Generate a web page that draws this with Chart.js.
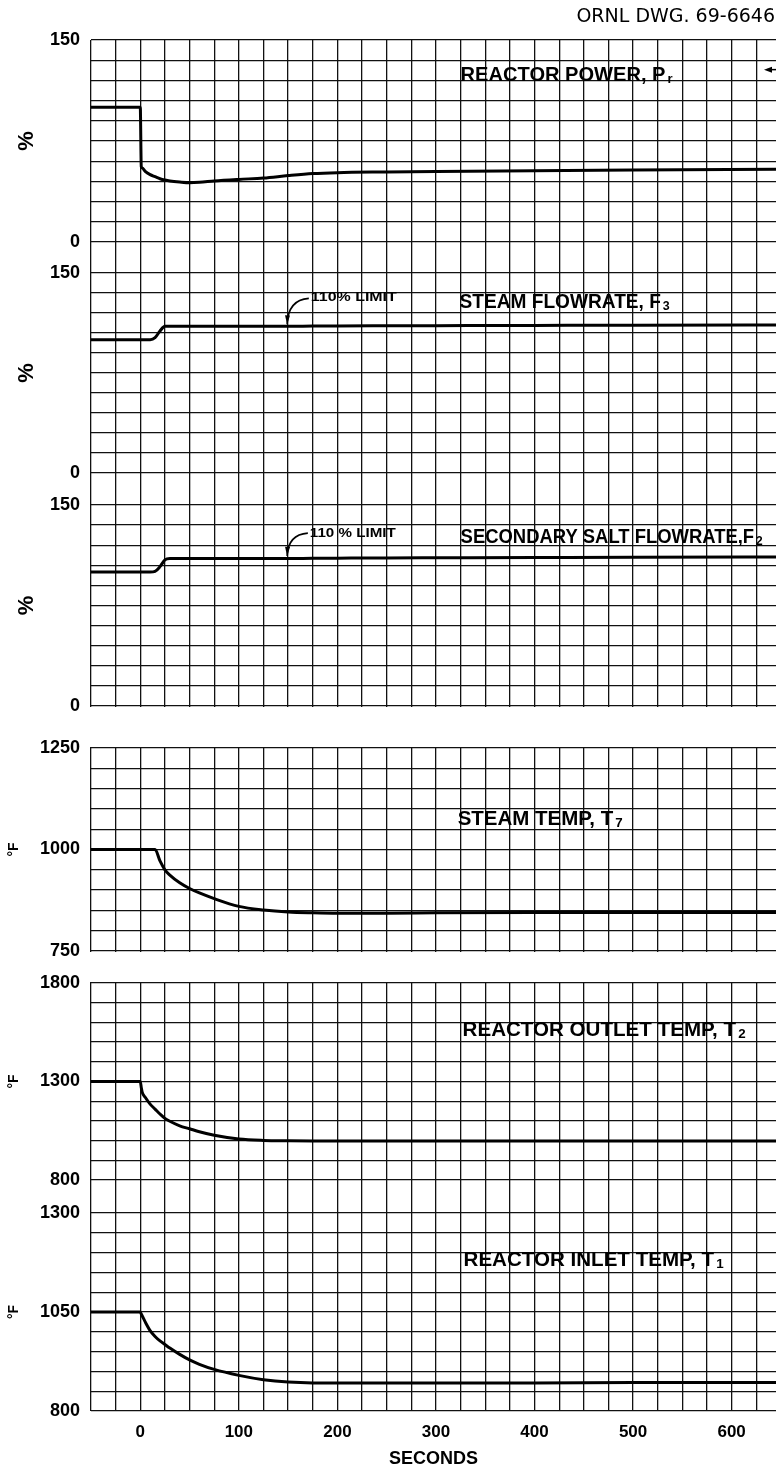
<!DOCTYPE html>
<html>
<head>
<meta charset="utf-8">
<script src="https://cdn.jsdelivr.net/npm/chart.js@4.4.0/dist/chart.umd.min.js"></script>
<style>
  html, body { margin: 0; padding: 0; background: #fff; }
  #wrap { position: relative; width: 776px; height: 1473px; }
</style>
</head>
<body>
<div id="wrap"><canvas id="transient" width="776" height="1473"></canvas></div>
<script>
// time after the load change (s)
const seconds = [-50, 0, 1, 2, 5, 10, 15, 20, 25, 30, 40, 50, 60, 75, 100, 125, 150, 175, 200, 250, 300, 400, 500, 645];

// series
const reactorPower = [100, 100, 56, 55, 52.5, 50, 48.5, 47, 46, 45.3, 44.5, 44, 44.3, 45.3, 46.5, 47.5, 49.3, 50.8, 51.5, 52, 52.4, 53, 53.4, 54];
const steamFlow = [100, 100, 100, 100, 100, 100, 101.5, 106.5, 110, 110, 110, 110, 110, 110, 110, 110, 110, 110.2, 110.3, 110.4, 110.5, 110.7, 110.9, 111];
const saltFlow = [100, 100, 100, 100, 100, 100, 100.5, 104, 109, 110, 110, 110, 110, 110, 110, 110, 110, 110.2, 110.3, 110.5, 110.6, 110.8, 111, 111.2];
const steamTemp = [1000, 1000, 1000, 1000, 1000, 1000, 1000, 972, 950, 937, 918, 904, 893, 879, 860, 851, 846, 844, 843, 843, 844, 845, 845, 845];
const outletTemp = [1300, 1300, 1270, 1245, 1220, 1185, 1160, 1135, 1113, 1098, 1075, 1060, 1045, 1027, 1008, 1001, 999, 998, 998, 998, 998, 998, 998, 998];
const inletTemp = [1050, 1050, 1045, 1040, 1025, 1003, 988, 977, 968, 959, 943, 929, 918, 905, 890, 879, 873, 871, 871, 871, 871, 871, 872, 872];

// labelled ticks
const percentLabels = [0, 150];
const steamTempLabels = [750, 1000, 1250];
const outletTempLabels = [800, 1300, 1800];
const inletTempLabels = [800, 1050, 1300];
const secondLabels = [0, 100, 200, 300, 400, 500, 600];

// pixel height of each strip on the paper, top to bottom (g* = space between strips)
const stripHeights = { yPower: 202, g1: 31, yStFlow: 200, g2: 32, ySalt: 201, g3: 42, ySteamT: 203, g4: 32, yOutlet: 197, g5: 33, yInlet: 198 };
const stripOrder = Object.keys(stripHeights);

const INK = "#111";
const FONT = '"Liberation Sans", Arial, sans-serif';
Chart.defaults.font.family = FONT;
Chart.defaults.color = "#000";

const points = (vals) => seconds.map((t, i) => ({ x: t, y: vals[i] }));

const valueAxis = (id, min, max, labels, unit, unitSize, unitPad) => ({
  type: "linear",
  position: "left",
  stack: "strips",
  stackWeight: stripHeights[id],
  weight: stripOrder.length - stripOrder.indexOf(id),
  min: min,
  max: max,
  afterFit: (s) => { s.width = 91; },
  grid: { color: INK, lineWidth: 1.3, drawTicks: false },
  border: { display: false },
  ticks: {
    stepSize: (max - min) / 10,
    autoSkip: false,
    padding: 11,
    font: { size: 18, weight: "bold" },
    callback: (v) => (labels.includes(v) ? String(v) : ""),
  },
  title: {
    display: true,
    text: unit,
    font: { size: unitSize, weight: "bold" },
    padding: { top: unitPad, bottom: 0 },
  },
});

const gapAxis = (id) => ({
  type: "linear",
  position: "left",
  stack: "strips",
  stackWeight: stripHeights[id],
  weight: stripOrder.length - stripOrder.indexOf(id),
  min: 0,
  max: 1,
  afterFit: (s) => { s.width = 91; },
  grid: { display: false },
  border: { display: false },
  ticks: { display: false },
});

const line = (vals, axis) => ({
  data: points(vals),
  yAxisID: axis,
  borderColor: "#000",
  borderWidth: 3,
  pointRadius: 0,
  cubicInterpolationMode: "monotone",
  fill: false,
});

// strip captions, placed in data units of their own strip
const captions = [
  { axis: "yPower", t: 325, v: 124, text: "REACTOR POWER, P", sub: "r", width: 212 },
  { axis: "yStFlow", t: 324, v: 128, text: "STEAM FLOWRATE, F", sub: "3", width: 210 },
  { axis: "ySalt", t: 325, v: 126, text: "SECONDARY SALT FLOWRATE,F", sub: "2", width: 302 },
  { axis: "ySteamT", t: 322, v: 1073, text: "STEAM TEMP, T", sub: "7", width: 165 },
  { axis: "yOutlet", t: 327, v: 1561, text: "REACTOR OUTLET TEMP, T", sub: "2", width: 283 },
  { axis: "yInlet", t: 328, v: 1181, text: "REACTOR INLET TEMP, T", sub: "1", width: 260 },
];

const limitNotes = [
  { axis: "yStFlow", text: "110% LIMIT", at: [173, 131.5], from: [171, 131], bend: [150, 130], to: [149, 111.5] },
  { axis: "ySalt", text: "110 % LIMIT", at: [172, 129], from: [170, 129], bend: [150, 128], to: [149, 112] },
];

const paperPlugin = {
  id: "paper",
  beforeDatasetsDraw(chart) {
    // blank paper between the separate recorder strips
    const { ctx, chartArea } = chart;
    ctx.save();
    ctx.fillStyle = "#fff";
    ["g3", "g4"].forEach((id) => {
      const s = chart.scales[id];
      ctx.fillRect(chartArea.left - 2, Math.round(s.top) + 1, chartArea.right - chartArea.left + 4, Math.round(s.bottom) - Math.round(s.top) - 2);
    });
    ctx.restore();
  },
  afterDatasetsDraw(chart) {
    const { ctx } = chart;
    const xs = chart.scales.x;
    ctx.save();
    ctx.fillStyle = "#000";
    ctx.strokeStyle = "#000";
    ctx.textBaseline = "middle";

    captions.forEach((c) => {
      const ys = chart.scales[c.axis];
      const px = xs.getPixelForValue(c.t);
      const py = ys.getPixelForValue(c.v);
      ctx.font = `bold 20px ${FONT}`;
      const mainW = ctx.measureText(c.text).width;
      ctx.font = `bold 13px ${FONT}`;
      const subW = ctx.measureText(c.sub).width;
      const k = c.width / (mainW + subW + 2);
      ctx.save();
      ctx.translate(px, py);
      ctx.scale(k, 1);
      ctx.font = `bold 20px ${FONT}`;
      ctx.fillText(c.text, 0, 0);
      ctx.font = `bold 13px ${FONT}`;
      ctx.fillText(c.sub, mainW + 2, 4);
      ctx.restore();
    });

    limitNotes.forEach((n) => {
      const ys = chart.scales[n.axis];
      const p = (pt) => [xs.getPixelForValue(pt[0]), ys.getPixelForValue(pt[1])];
      const a = p(n.from), b = p(n.bend), c = p(n.to), tx = p(n.at);
      ctx.lineWidth = 1.6;
      ctx.beginPath();
      ctx.moveTo(a[0], a[1]);
      ctx.quadraticCurveTo(b[0], b[1], c[0], c[1]);
      ctx.stroke();
      const ang = Math.atan2(c[1] - b[1], c[0] - b[0]);
      ctx.beginPath();
      ctx.moveTo(c[0], c[1]);
      ctx.lineTo(c[0] - 9 * Math.cos(ang) + 2.5 * Math.sin(ang), c[1] - 9 * Math.sin(ang) - 2.5 * Math.cos(ang));
      ctx.lineTo(c[0] - 9 * Math.cos(ang) - 2.5 * Math.sin(ang), c[1] - 9 * Math.sin(ang) + 2.5 * Math.cos(ang));
      ctx.closePath();
      ctx.fill();
      ctx.font = `bold 13px ${FONT}`;
      const w = ctx.measureText(n.text).width;
      ctx.save();
      ctx.translate(tx[0], tx[1]);
      ctx.scale(86 / w, 1);
      ctx.fillText(n.text, 0, 0);
      ctx.restore();
    });

    // pointer at the right edge of the power strip
    const ay = chart.scales.yPower.getPixelForValue(128);
    ctx.lineWidth = 1.5;
    ctx.beginPath();
    ctx.moveTo(776, ay);
    ctx.lineTo(767, ay);
    ctx.stroke();
    ctx.beginPath();
    ctx.moveTo(764, ay);
    ctx.lineTo(772, ay - 3);
    ctx.lineTo(772, ay + 3);
    ctx.closePath();
    ctx.fill();
    ctx.restore();
  },
  afterDraw(chart) {
    const { ctx } = chart;
    ctx.save();
    ctx.fillStyle = "#000";
    ctx.font = '19px "DejaVu Sans", sans-serif';
    ctx.textAlign = "right";
    ctx.textBaseline = "middle";
    ctx.fillText("ORNL DWG. 69-6646", 775, 17);
    ctx.restore();
  },
};

const scales = {
  x: {
    type: "linear",
    position: "bottom",
    min: -50,
    max: 645,
    afterFit: (s) => { s.height = 62; },
    grid: { color: INK, lineWidth: 1.3, drawTicks: false },
    border: { display: false },
    ticks: {
      stepSize: 25,
      includeBounds: false,
      autoSkip: false,
      maxRotation: 0,
      padding: 11,
      font: { size: 17, weight: "bold" },
      callback: (v) => (secondLabels.includes(v) ? String(v) : ""),
    },
    title: { display: true, text: "SECONDS", font: { size: 18, weight: "bold" }, padding: { top: 0, bottom: 3 } },
  },
  yPower: valueAxis("yPower", 0, 150, percentLabels, "%", 22, 14),
  g1: gapAxis("g1"),
  yStFlow: valueAxis("yStFlow", 0, 150, percentLabels, "%", 22, 14),
  g2: gapAxis("g2"),
  ySalt: valueAxis("ySalt", 0, 150, percentLabels, "%", 22, 14),
  g3: gapAxis("g3"),
  ySteamT: valueAxis("ySteamT", 750, 1250, steamTempLabels, "°F", 14, 6),
  g4: gapAxis("g4"),
  yOutlet: valueAxis("yOutlet", 800, 1800, outletTempLabels, "°F", 14, 6),
  g5: gapAxis("g5"),
  yInlet: valueAxis("yInlet", 800, 1300, inletTempLabels, "°F", 14, 6),
};

new Chart(document.getElementById("transient").getContext("2d"), {
  type: "line",
  data: {
    datasets: [
      line(reactorPower, "yPower"),
      line(steamFlow, "yStFlow"),
      line(saltFlow, "ySalt"),
      line(steamTemp, "ySteamT"),
      line(outletTemp, "yOutlet"),
      line(inletTemp, "yInlet"),
    ],
  },
  options: {
    responsive: false,
    animation: false,
    devicePixelRatio: 1,
    events: [],
    layout: { padding: { top: 40, left: 0, right: 0, bottom: 0 } },
    plugins: { legend: { display: false }, tooltip: { enabled: false } },
    scales: scales,
  },
  plugins: [paperPlugin],
});
</script>
</body>
</html>
